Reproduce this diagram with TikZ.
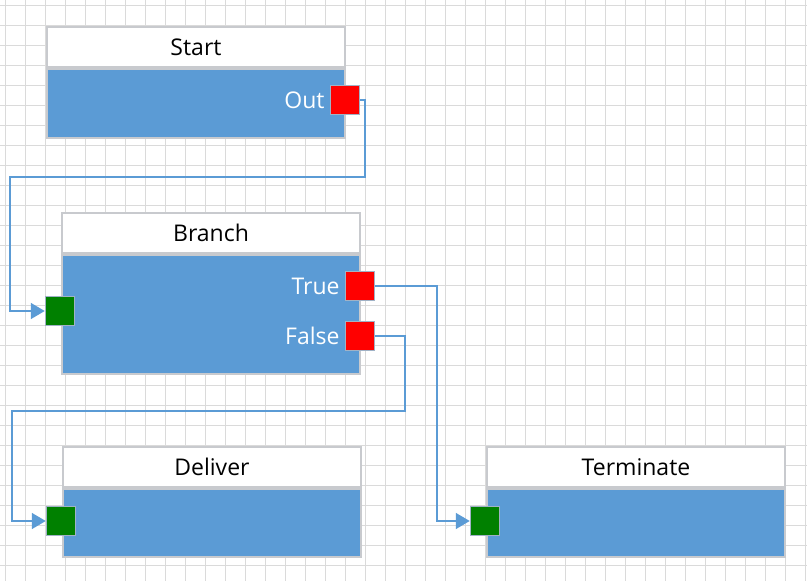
\documentclass[tikz,border=0pt]{standalone}
\usepackage{fontspec}
\setmainfont{Open Sans}
\usetikzlibrary{arrows.meta,positioning}

\definecolor{bodyblue}{RGB}{91,155,213}
\definecolor{wireblue}{RGB}{91,155,213}
\definecolor{boxgray}{RGB}{200,202,206}
\definecolor{gridgray}{RGB}{218,218,218}
\definecolor{portrim}{RGB}{160,178,198}
\definecolor{portred}{RGB}{255,0,0}
\definecolor{portgreen}{RGB}{0,128,0}

\begin{document}
\begin{tikzpicture}[
  x=1pt, y=-1pt,
  every node/.style={font=\fontsize{23}{27}\selectfont, inner sep=0pt},
  header/.style={draw=boxgray, line width=2pt, fill=white, minimum width=298pt, minimum height=40pt, anchor=north west},
  body/.style={draw=boxgray, line width=2pt, fill=bodyblue, minimum width=298pt, anchor=north},
  port/.style={draw=portrim, line width=1.5pt, minimum size=29pt},
  outport/.style={port, fill=portred},
  inport/.style={port, fill=portgreen},
  portlabel/.style={text=white},
  wire/.style={draw=wireblue, line width=1.6pt},
  arrowwire/.style={wire, -{Triangle[length=14pt, width=16pt]}}
]

\useasboundingbox (0,0) rectangle (807,581);
\fill[white] (0,0) rectangle (807,581);

% background grid
\foreach \gx in {5,25,...,805}
  \draw[gridgray, line width=1pt] (\gx,0) -- (\gx,581);
\foreach \gy in {5,25,...,565}
  \draw[gridgray, line width=1pt] (0,\gy) -- (807,\gy);

% Start block
\node[header] (start) at (46,26) {Start};
\node[body, minimum height=69pt] (startbody) at (start.south) {};
\node[outport] (startout) at (345,100) {};
\node[portlabel, left=5pt of startout] (startoutlbl) {Out};

% Branch block
\node[header] (branch) at (61,212) {Branch};
\node[body, minimum height=119pt] (branchbody) at (branch.south) {};
\node[inport] (branchin) at (60,311) {};
\node[outport] (branchtrue) at (360,286) {};
\node[outport] (branchfalse) at (360,336) {};
\node[portlabel, left=5pt of branchtrue] (branchtruelbl) {True};
\node[portlabel, left=5pt of branchfalse] (branchfalselbl) {False};

% Deliver and Terminate blocks
\node[header] (deliver) at (62,446) {Deliver};
\node[body, minimum height=68pt] (deliverbody) at (deliver.south) {};
\node[inport] (deliverin) at (61,521) {};

\node[header] (terminate) at (486,446) {Terminate};
\node[body, minimum height=68pt] (terminatebody) at (terminate.south) {};
\node[inport] (terminatein) at (485,521) {};

% connectors
\draw[arrowwire] (startout.east) -- ++(5,0) |- (10,177) |- (branchin.west);
\draw[arrowwire] (branchtrue.east) -- ++(62,0) |- (terminatein.west);
\draw[arrowwire] (branchfalse.east) -- ++(30,0) |- (12,411) |- (deliverin.west);
\end{tikzpicture}
\end{document}
